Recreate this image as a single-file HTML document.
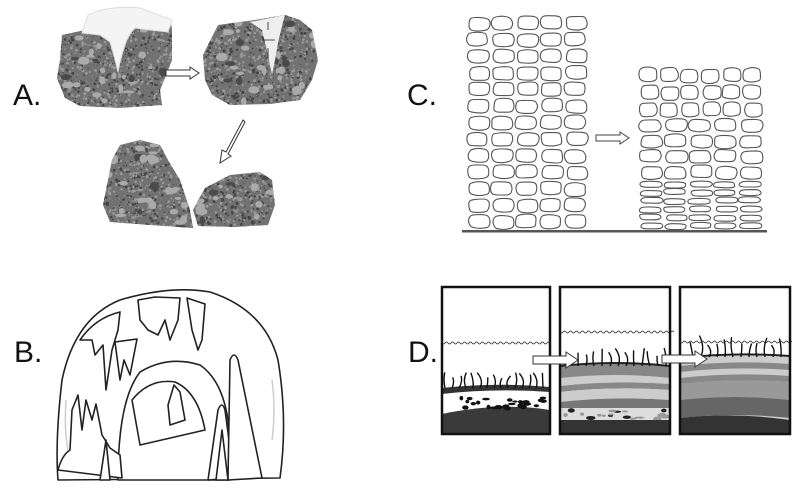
<!DOCTYPE html>
<html><head><meta charset="utf-8"><style>
html,body{margin:0;padding:0;background:#fff;width:792px;height:492px;overflow:hidden}
svg{display:block}
.lab{font-family:"Liberation Sans",sans-serif;font-size:30px;fill:#111;font-weight:normal}
</style></head><body>
<svg id="s" width="792" height="492" viewBox="0 0 792 492" xmlns="http://www.w3.org/2000/svg">
<defs>
<clipPath id="r1"><path d="M62,35 L85,30 L110,32 L140,28 L172,25 L172,60 L165,78 L160,90 L162,105 L120,108 L80,106 L65,98 L57,78 L60,60 Z"/></clipPath>
<clipPath id="r2"><path d="M218,25 L255,20 L285,15 L300,20 L312,30 L318,60 L312,80 L300,100 L270,104 L230,105 L212,95 L205,80 L203,55 Z"/></clipPath>
<clipPath id="r3"><path d="M120,145 L140,140 L160,145 L168,160 L180,180 L190,210 L193,228 L150,225 L110,222 L103,205 L108,180 L112,160 Z"/></clipPath>
<clipPath id="r4"><path d="M205,188 L230,175 L260,172 L272,180 L275,205 L268,225 L235,227 L198,226 L193,210 Z"/></clipPath>
</defs>
<text class="lab" x="13" y="105">A.</text>
<text class="lab" x="407" y="105">C.</text>
<text class="lab" x="14" y="362">B.</text>
<text class="lab" x="408" y="362">D.</text>
<g id="rocks"></g>
<path d="M88,15 Q110,5 140,8 L172,20 L168,32 L150,30 L135,28 Q128,35 125,45 Q120,60 118,72 Q114,55 110,42 L100,35 L82,33 Z" fill="#f4f4f4" stroke="#ddd"/>
<path d="M250,22 L285,15 Q278,40 276,55 L272,75 L268,55 L262,30 Z" fill="#eeeeee"/>
<g stroke="#222" stroke-width="0.8" fill="none"><path d="M268,22 V30 M262,40 H275 M268,48 V58"/></g>
<path d="M166,70 H190 V67 L199,73 L190,79 V76 H166 Z" fill="#fff" stroke="#333"/>
<path d="M243,120 L226,152 L222,150 L220,163 L231,156 L228,154 L245,122 Z" fill="#fff" stroke="#333"/>
<g id="walls" fill="none" stroke="#555" stroke-width="1.1"></g>
<path d="M596,135 H620 V132 L629,138 L620,144 V141 H596 Z" fill="#fff" stroke="#444"/>
<rect x="462" y="230" width="305" height="2.5" fill="#555"/>
<g fill="#fff" stroke="#222" stroke-width="1.6" stroke-linejoin="round">
<path d="M58,480 Q55,440 62,380 Q75,318 120,300 Q170,285 210,292 Q265,310 278,360 Q288,420 280,478 Z"/>
<path d="M118,480 Q118,400 140,372 Q168,355 200,365 Q222,380 228,420 L230,480 Z"/>
<path d="M132,400 Q150,378 175,382 Q198,392 205,430 L140,445 Z" fill="#fff"/>
<path d="M80,340 Q95,318 120,312 L118,330 L112,350 L106,390 L103,345 L95,355 L92,340 Z"/>
<path d="M138,300 L155,297 L180,298 L178,320 L170,340 L165,320 L158,335 L148,330 L140,320 Z"/>
<path d="M187,298 L205,304 L202,340 L198,350 L192,330 Z"/>
<path d="M115,342 L137,339 L130,375 L124,360 L120,380 Z"/>
<path d="M58,470 Q62,455 70,450 L72,410 L78,395 L82,430 L86,400 L92,420 L96,404 L102,435 L110,448 L120,455 L122,478 Z"/>
<path d="M100,480 L106,440 L110,480 Z"/>
<path d="M208,480 L218,410 Q222,400 225,410 L234,478 Z"/>
<path d="M228,480 L230,360 Q234,350 238,360 L262,478 Z"/>
<path d="M216,480 L222,430 L228,480 Z"/>
<path d="M168,405 L174,385 L180,392 L185,420 L170,425 Z"/>
</g>
<g stroke="#ccc" stroke-width="1.5" fill="none"><path d="M66,400 Q64,430 68,450 M272,380 Q276,410 272,440"/></g>
<g id="d"></g>
</svg>
<script>
var NS="http://www.w3.org/2000/svg";
function el(t,a,p){var e=document.createElementNS(NS,t);for(var k in a)e.setAttribute(k,a[k]);p.appendChild(e);return e;}
var seed=7;function R(){seed=(seed*9301+49297)%233280;return seed/233280;}
var rocks=document.getElementById('rocks');
[['r1',55,10,120,100],['r2',200,12,120,95],['r3',100,138,95,92],['r4',190,170,88,60]].forEach(function(r){
 var g=el('g',{'clip-path':'url(#'+r[0]+')'},rocks);
 el('rect',{x:r[1],y:r[2],width:r[3],height:r[4],fill:'#727272'},g);
 for(var i=0;i<r[3]*r[4]/12;i++)el('circle',{cx:r[1]+R()*r[3],cy:r[2]+R()*r[4],r:0.5+R()*1,fill:R()<0.55?'#9a9a9a':'#444'},g);
 for(var i=0;i<r[3]*r[4]/250;i++)el('ellipse',{cx:r[1]+R()*r[3],cy:r[2]+R()*r[4],rx:2+R()*4,ry:1.5+R()*3,fill:R()<0.75?'#aaa':'#4a4a4a'},g);
});
var w=document.getElementById('walls');
function stone(x,y,bw,h){var r=Math.min(bw,h)*0.35,pts=[];
 var cx=x+bw/2,cy=y+h/2;var s='';
 for(var k=0;k<12;k++){var a=k/12*Math.PI*2,ca=Math.cos(a),sa=Math.sin(a);
  var px=cx+Math.sign(ca)*Math.pow(Math.abs(ca),0.6)*(bw/2)*(0.88+R()*0.14),py=cy+Math.sign(sa)*Math.pow(Math.abs(sa),0.6)*(h/2)*(0.88+R()*0.14);pts.push([px,py]);}
 s='M'+((pts[0][0]+pts[1][0])/2)+','+((pts[0][1]+pts[1][1])/2);
 for(var k=1;k<=12;k++){var p=pts[k%12],q=pts[(k+1)%12];s+=' Q'+p[0].toFixed(1)+','+p[1].toFixed(1)+' '+((p[0]+q[0])/2).toFixed(1)+','+((p[1]+q[1])/2).toFixed(1);}
 el('path',{d:s+'Z'},w);}
function wall(x0,y0,x1,y1,rows,n){var h=(y1-y0)/rows;for(var j=0;j<rows;j++){var bw=(x1-x0)/n;for(var i=0;i<n;i++){var jx=(R()-0.5)*3,jy=(R()-0.5)*2;
 stone(x0+i*bw+1+jx,y0+j*h+1+jy,bw-2,h-2);}}}
wall(466,15,588,230,13,5);
wall(638,67,763,118,3,6);wall(638,118,763,180,4,5);wall(638,180,763,230,6,5);
var d=document.getElementById('d');
function wave(x0,x1,y){var s='M'+x0+','+y;for(var x=x0;x<x1;x+=6)s+=' q1.5,2 3,0 q1.5,-2 3,0';el('path',{d:s,fill:'none',stroke:'#222','stroke-width':0.7},d);}
function weeds(x0,x1,y,step,hh){for(var x=x0+3;x<x1-2;x+=step){var h=hh*(0.6+R()*0.6);el('path',{d:'M'+x+','+y+' q'+((R()-0.5)*8)+','+(-h/2)+' '+((R()-0.5)*6)+','+(-h),fill:'none',stroke:'#111','stroke-width':1.4},d);}}
el('rect',{x:442,y:404,width:108,height:30,fill:'#3a3a3a'},d);
el('path',{d:'M442,386 Q500,392 550,384 L550,410 Q500,402 442,414 Z',fill:'#fff'},d);
el('path',{d:'M442,388 Q495,382 550,387 L550,392 Q495,388 442,394 Z',fill:'#333'},d);
for(var i=0;i<26;i++)el('ellipse',{cx:446+R()*100,cy:397+R()*12,rx:1.5+R()*2.5,ry:1+R()*1.5,fill:'#111'},d);
weeds(442,550,388,7,14);wave(442,550,343);
el('rect',{x:560,y:360,width:110,height:74,fill:'#fff'},d);
el('path',{d:'M560,366 Q615,360 670,366 L670,378 Q615,372 560,380 Z',fill:'#888'},d);
el('path',{d:'M560,378 Q615,372 670,378 L670,384 Q615,380 560,386 Z',fill:'#ccc'},d);
el('path',{d:'M560,386 Q615,380 670,384 L670,390 Q615,386 560,392 Z',fill:'#888'},d);
el('path',{d:'M560,392 Q615,386 670,390 L670,400 Q615,396 560,402 Z',fill:'#ccc'},d);
el('path',{d:'M560,402 Q615,396 670,400 L670,408 L560,408 Z',fill:'#777'},d);
el('rect',{x:560,y:408,width:110,height:12,fill:'#ddd'},d);
for(var i=0;i<18;i++)el('ellipse',{cx:564+R()*102,cy:410+R()*9,rx:2+R()*3,ry:1+R()*1.2,fill:R()<0.5?'#222':'#999'},d);
el('rect',{x:560,y:420,width:110,height:14,fill:'#333'},d);
el('path',{d:'M560,366 Q615,360 670,366',fill:'none',stroke:'#222','stroke-width':2},d);
weeds(575,670,366,8,16);wave(560,670,332);
el('path',{d:'M680,358 Q735,352 790,356 L790,434 L680,434 Z',fill:'#ccc'},d);
el('path',{d:'M680,366 Q735,360 790,364 L790,370 Q735,366 680,372 Z',fill:'#888'},d);
el('path',{d:'M680,378 Q735,372 790,376 L790,382 Q735,378 680,384 Z',fill:'#888'},d);
el('path',{d:'M680,384 Q735,378 790,382 L790,400 Q735,394 680,400 Z',fill:'#999'},d);
el('path',{d:'M680,400 Q735,394 790,400 L790,418 Q735,412 680,418 Z',fill:'#666'},d);
el('path',{d:'M680,418 Q735,412 790,420 L790,434 L680,434 Z',fill:'#333'},d);
el('path',{d:'M680,358 Q735,352 790,356',fill:'none',stroke:'#222','stroke-width':2},d);
weeds(690,790,357,8,18);wave(680,790,342);
[[442,550],[560,670],[680,790]].forEach(function(p){el('rect',{x:p[0],y:287,width:p[1]-p[0],height:147,fill:'none',stroke:'#111','stroke-width':2.5},d);});
el('path',{d:'M533,356 H566 V352 L578,360 L566,368 V364 H533 Z',fill:'#fff',stroke:'#333'},d);
el('path',{d:'M662,355 H695 V351 L707,359 L695,367 V363 H662 Z',fill:'#fff',stroke:'#333'},d);
</script>
</body></html>
